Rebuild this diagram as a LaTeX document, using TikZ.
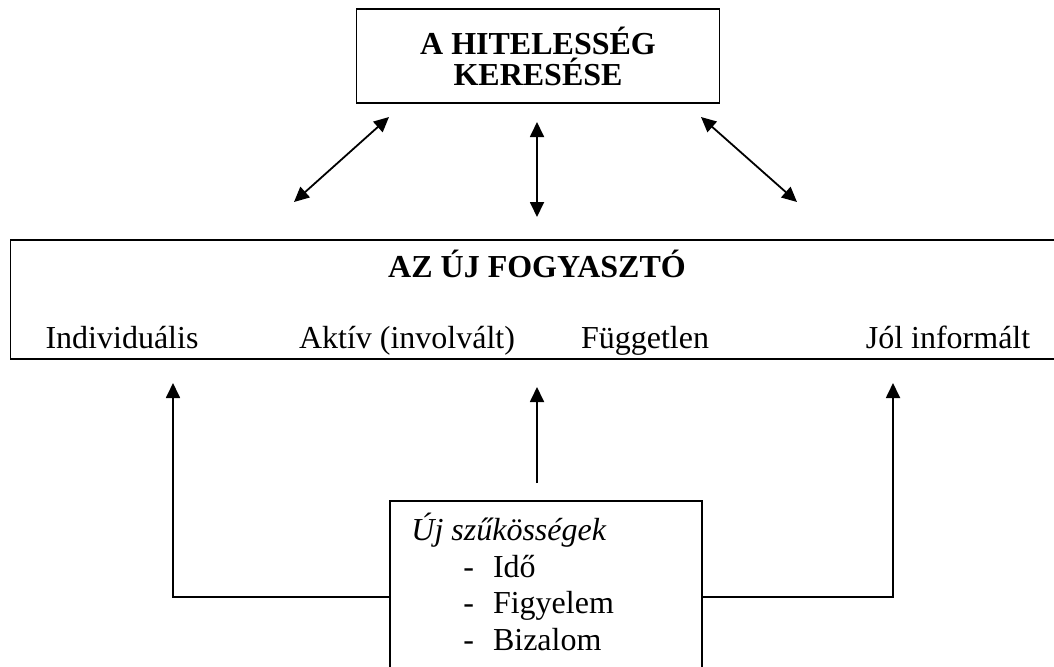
\documentclass[tikz,border=0pt]{standalone}
\usepackage{fontspec}
\setmainfont{Liberation Serif}
\usetikzlibrary{arrows.meta}
\tikzset{
    box/.style={draw, line width=0.9pt, inner sep=0pt},
    txt/.style={font=\fontsize{16}{15.5}\selectfont, inner sep=0pt},
    ttl/.style={font=\bfseries\fontsize{16}{15.5}\selectfont, inner sep=0pt},
    both/.style={{Triangle[length=7.5pt,width=7pt]}-{Triangle[length=7.5pt,width=7pt]}, line width=0.9pt},
    up/.style={-{Triangle[length=7.5pt,width=7pt]}, line width=0.9pt}
}

\begin{document}
\begin{tikzpicture}[x=0.5pt, y=-0.5pt]
        \useasboundingbox (0, 0) rectangle (1054, 666);
        \clip (0, 0) rectangle (1054, 666);
        % top box
        \node [box, ttl, align=center, minimum width=181.5pt, minimum height=47pt] (hit) at (538, 56) {A HITELESSÉG\\KERESÉSE};
        % consumer box
        \node [box, anchor=north west, minimum width=535pt, minimum height=59.5pt] (fogy) at (9.5, 239) {};
        \node [ttl, anchor=base] (cim) at (537, 277) {AZ ÚJ FOGYASZTÓ};
        \node [txt, anchor=base] (ind) at (122, 348) {Individuális};
        \node [txt, anchor=base] (akt) at (407, 348) {Aktív (involvált)};
        \node [txt, anchor=base] (fug) at (645, 348) {Független};
        \node [txt, anchor=base] (jol) at (948, 348) {Jól informált};
        % needs box
        \node [box, anchor=north west, minimum width=156pt, minimum height=100pt] (szuk) at (389, 500) {};
        \node [txt, anchor=base west] (uj) at (411, 540) {\itshape Új szűkösségek};
        \node [txt, anchor=base west] (ido) at (463, 577) {-\hspace{9.5pt}Idő};
        \node [txt, anchor=base west] (fig) at (463, 613) {-\hspace{9.5pt}Figyelem};
        \node [txt, anchor=base west] (biz) at (463, 650) {-\hspace{9.5pt}Bizalom};
        % double arrows
        \coordinate (la) at (294, 202);
        \coordinate (lb) at (389, 117);
        \coordinate (ma) at (537, 217);
        \coordinate (mb) at (537, 122);
        \coordinate (ra) at (797, 202);
        \coordinate (rb) at (701, 117);
        \draw [both] (la) -- (lb);
        \draw [both] (ma) -- (mb);
        \draw [both] (ra) -- (rb);
        % arrows from the needs
        \coordinate (lk) at (173, 597);
        \coordinate (lt) at (173, 383);
        \coordinate (mk) at (537, 483);
        \coordinate (mt) at (537, 387);
        \coordinate (rk) at (893, 597);
        \coordinate (rt) at (893, 383);
        \draw [up] (szuk.west |- lk) -- (lk) -- (lt);
        \draw [up] (mk) -- (mt);
        \draw [up] (szuk.east |- rk) -- (rk) -- (rt);
    \end{tikzpicture}
\end{document}
